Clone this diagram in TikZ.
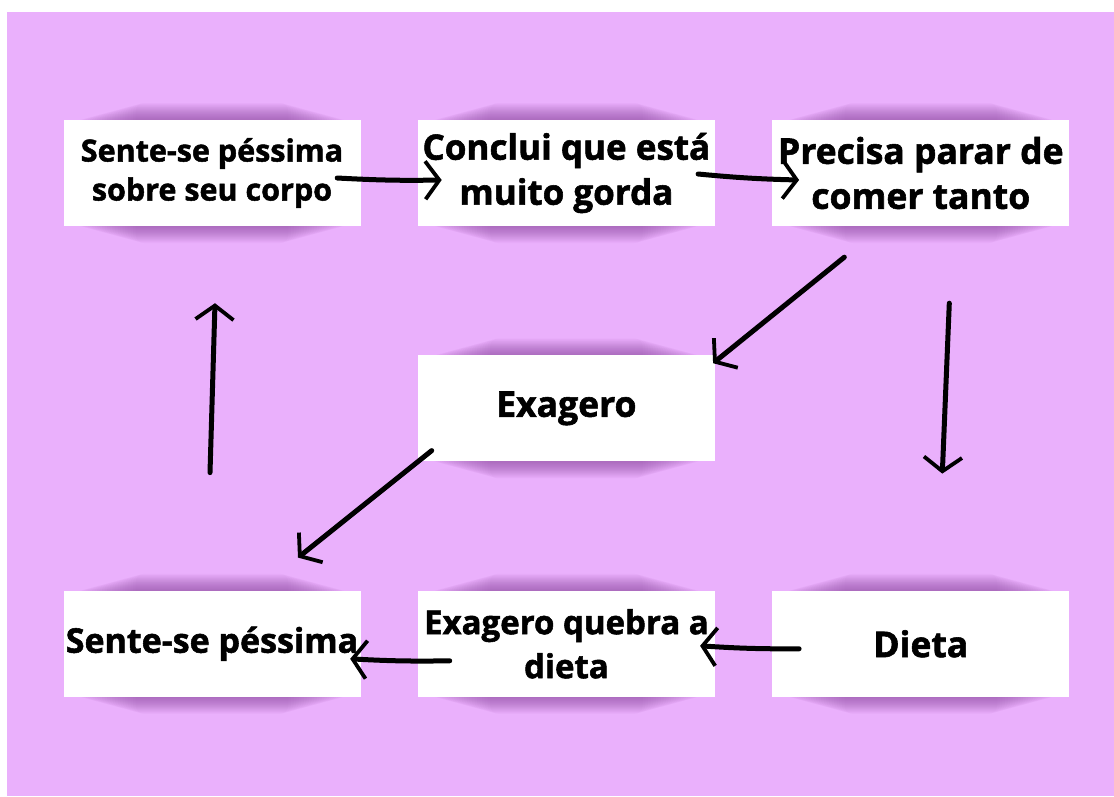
\documentclass[tikz,border=0pt]{standalone}
\usepackage{fontspec}
\setmainfont{Open Sans}[BoldFeatures={FakeBold=1.6}]
\usepackage{tikz}
\usetikzlibrary{positioning,arrows.meta}
\definecolor{fundo}{RGB}{234,176,252}
\definecolor{sombracor}{RGB}{110,40,130}
\pgfdeclarelayer{camadafundo}
\pgfdeclarelayer{camadasombra}
\pgfsetlayers{camadafundo,camadasombra,main}
\tikzset{
  etapa/.style={rectangle, fill=white, minimum width=297pt, minimum height=106pt,
    inner sep=2pt, align=center},
  seta/.style={line width=5pt, line cap=round, black,
    -{Straight Barb[length=14pt, width=38pt, line width=3.8pt]}}
}
% sombra suave acima e abaixo de cada caixa
\newcommand{\sombra}[1]{%
  \begin{pgfonlayer}{camadasombra}
    \foreach \k in {1,...,24}
      \fill[sombracor, opacity=0.024, rounded corners=8pt]
        ([xshift=10pt+2.6pt*\k, yshift=0.7pt*\k]#1.north west)
        rectangle ([xshift=-10pt-2.6pt*\k, yshift=-0.7pt*\k]#1.south east);
  \end{pgfonlayer}}

\begin{document}
\begin{tikzpicture}[x=1pt, y=-1pt]
  \useasboundingbox (0,0) rectangle (1114,796);
  \begin{pgfonlayer}{camadafundo}
    \fill[fundo] (7,12) rectangle (1114,796);
  \end{pgfonlayer}
  % primeira linha
  \node[etapa, font=\bfseries\fontsize{30.5}{39}\selectfont] (sente) at (212,173) {Sente-se péssima\\sobre seu corpo};
  \node[etapa, font=\bfseries\fontsize{35}{45}\selectfont, right=57pt of sente] (conclui) {Conclui que está\\muito gorda};
  \node[etapa, font=\bfseries\fontsize{35.5}{45}\selectfont, right=57pt of conclui] (precisa) {Precisa parar de\\comer tanto};
  % centro
  \node[etapa, font=\bfseries\fontsize{35.5}{40}\selectfont, below=129pt of conclui] (exagero) {Exagero};
  % ultima linha
  \node[etapa, font=\bfseries\fontsize{33}{44}\selectfont, below=129pt of exagero] (quebra) {Exagero quebra a\\dieta};
  \node[etapa, font=\bfseries\fontsize{34}{40}\selectfont, left=57pt of quebra] (pessima) {Sente-se péssima};
  \node[etapa, font=\bfseries\fontsize{35.5}{40}\selectfont, right=57pt of quebra] (dieta) {Dieta};
  \foreach \n in {sente,conclui,precisa,exagero,quebra,pessima,dieta} {\sombra{\n}}
  % setas
  \draw[seta] ([xshift=-23.5pt,yshift=-5pt]sente.east) to[bend right=2] ([xshift=24pt,yshift=-7pt]conclui.west);
  \draw[seta] ([xshift=-17pt,yshift=-1pt]conclui.east) to[bend right=2] ([xshift=27pt,yshift=-7pt]precisa.west);
  \draw[seta] ([xshift=-76.5pt,yshift=-31pt]precisa.south) -- ([xshift=-2pt,yshift=-8pt]exagero.north east);
  \draw[seta] ([xshift=28.5pt,yshift=-77pt]precisa.south) -- ([xshift=21.5pt,yshift=117pt]dieta.north);
  \draw[seta] ([xshift=27pt,yshift=-5pt]dieta.west) to[bend left=2] ([xshift=-15pt,yshift=-2pt]quebra.east);
  \draw[seta] ([xshift=32pt,yshift=-17pt]quebra.west) to[bend left=2] ([xshift=-10.5pt,yshift=-15pt]pessima.east);
  \draw[seta] ([xshift=14pt,yshift=11pt]exagero.south west) -- ([xshift=86pt,yshift=33pt]pessima.north);
  \draw[seta] ([xshift=-2pt,yshift=118pt]pessima.north) -- ([xshift=3pt,yshift=-77pt]sente.south);
\end{tikzpicture}
\end{document}
